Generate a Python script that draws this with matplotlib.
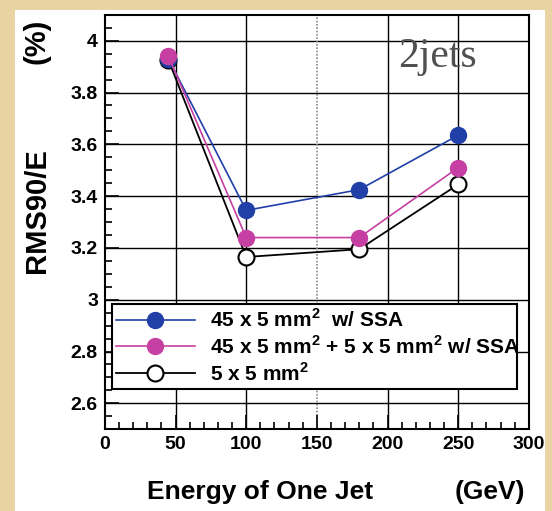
import matplotlib
matplotlib.use("Agg")
import matplotlib.pyplot as plt
from matplotlib.patches import Rectangle
from matplotlib.ticker import MultipleLocator

# données
energy = [45, 100, 180, 250]
rms_ssa = [3.93, 3.345, 3.425, 3.635]
rms_mix = [3.94, 3.24, 3.24, 3.51]
rms_5x5 = [3.925, 3.165, 3.195, 3.445]
labels = [r"45 x 5 mm$^\mathbf{2}$  w/ SSA",
          r"45 x 5 mm$^\mathbf{2}$ + 5 x 5 mm$^\mathbf{2}$ w/ SSA",
          r"5 x 5 mm$^\mathbf{2}$"]
y_grid = [2.6, 2.8, 3.0, 3.2, 3.4, 3.6, 3.8, 4.0]
x_grid = [50, 100, 200, 250]

plt.rcParams["font.family"] = ["Liberation Sans", "DejaVu Sans"]
plt.rcParams["font.weight"] = "bold"
plt.rcParams["mathtext.fontset"] = "custom"
plt.rcParams["mathtext.bf"] = "Liberation Sans:bold"
plt.rcParams["mathtext.rm"] = "Liberation Sans:bold"

fig = plt.figure(figsize=(5.52, 5.11), dpi=100)
fig.patch.set_facecolor("#e8d3a2")
fig.patches.append(Rectangle((15 / 552, 0), (545 - 15) / 552, 1 - 10 / 511,
                             transform=fig.transFigure, facecolor="white",
                             edgecolor="none", zorder=-10))

ax = fig.add_axes([0.190, 0.160, 0.768, 0.811])
ax.set_zorder(1)
ax.set_xlim(0, 300)
ax.set_ylim(2.5, 4.1)

# grille
for y in y_grid:
    ax.axhline(y, color="black", lw=1.0, zorder=1)
for x in x_grid:
    ax.axvline(x, color="black", lw=1.0, zorder=1)
ax.axvline(150, color="#888888", lw=1.2, ls=(0, (1, 1)), zorder=1)

ax.plot(energy, rms_5x5, color="black", lw=1.3, marker="o", ms=11.5,
        mfc="white", mec="black", mew=1.5, zorder=3, label=labels[2])
ax.plot(energy, rms_ssa, color="#2040a8", lw=1.2, marker="o", ms=11.5,
        mfc="#2040a8", mec="#2040a8", zorder=4, label=labels[0])
ax.plot(energy, rms_mix, color="#c63fa2", lw=1.2, marker="o", ms=11.5,
        mfc="#c63fa2", mec="#c63fa2", zorder=5, label=labels[1])

ax.xaxis.set_major_locator(MultipleLocator(50))
ax.xaxis.set_minor_locator(MultipleLocator(10))
ax.yaxis.set_minor_locator(MultipleLocator(0.05))
ax.set_yticks(y_grid)
ax.set_yticklabels(["2.6", "2.8", "3", "3.2", "3.4", "3.6", "3.8", "4"])
ax.tick_params(which="both", direction="in", top=False, right=False,
               labelsize=14, pad=5, width=1.2)
ax.tick_params(which="major", length=10)
ax.tick_params(which="minor", length=5)
for s in ax.spines.values():
    s.set_linewidth(1.5)

handles, labs = ax.get_legend_handles_labels()
order = [1, 2, 0]
leg = ax.legend([handles[i] for i in order], [labs[i] for i in order],
                loc="upper left", bbox_to_anchor=(0.016, 0.107, 0.956, 0.195),
                mode="expand", fontsize=15, handlelength=3.8,
                handletextpad=0.7, labelspacing=0.2, borderpad=0.2,
                borderaxespad=0, fancybox=False, framealpha=1,
                edgecolor="black")
leg.get_frame().set_linewidth(1.5)
leg.set_zorder(6)

ax.text(0.691, 0.874, "2jets", transform=ax.transAxes, fontsize=30,
        family="Liberation Serif", weight="normal", color="#505050",
        va="baseline", ha="left", zorder=6)

fig.text(37 / 552, 1 - 211 / 511, "RMS90/E", rotation=90, fontsize=21,
         weight="bold", ha="center", va="center")
fig.text(37 / 552, 1 - 41 / 511, "(%)", rotation=90, fontsize=21,
         weight="bold", ha="center", va="center")
fig.text(260 / 552, 1 - 492 / 511, "Energy of One Jet", fontsize=19,
         weight="bold", ha="center", va="center")
fig.text(490 / 552, 1 - 492 / 511, "(GeV)", fontsize=19,
         weight="bold", ha="center", va="center")

fig.savefig("out.png", dpi=100, facecolor=fig.get_facecolor())
